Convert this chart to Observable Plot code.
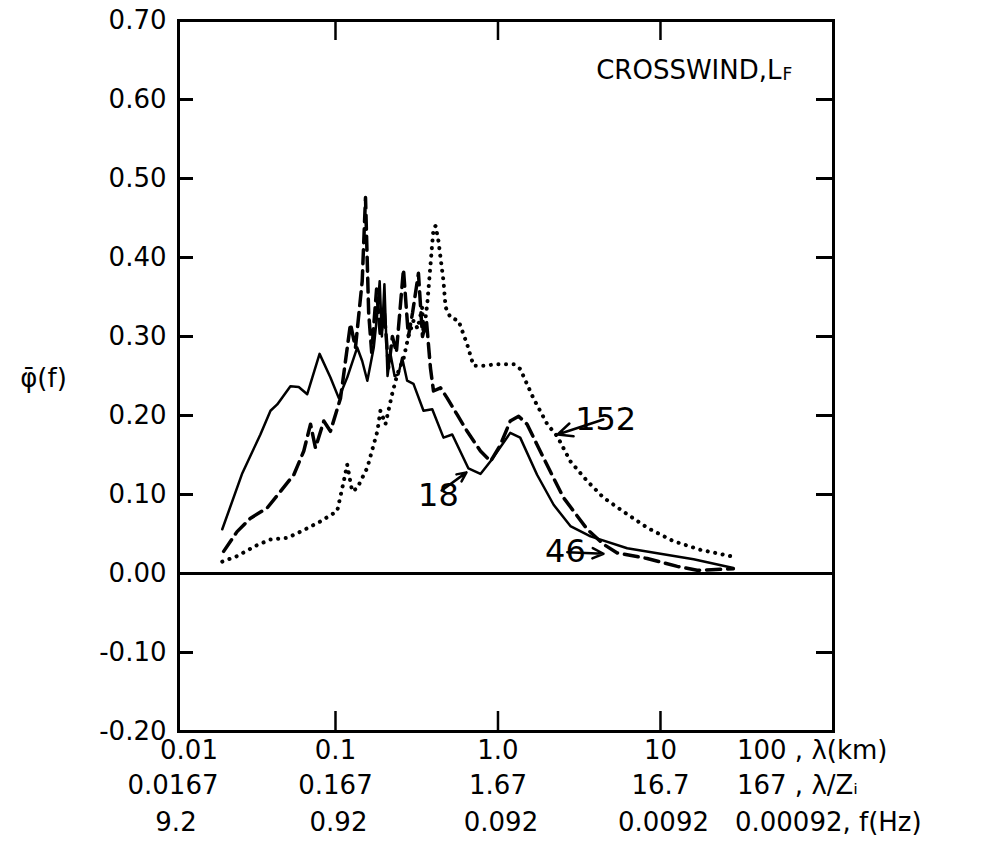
<!DOCTYPE html>
<html><head><meta charset="utf-8">
<script src="https://cdn.jsdelivr.net/npm/d3@7"></script>
<script src="https://cdn.jsdelivr.net/npm/@observablehq/plot@0.6"></script>
<style>body{margin:0;background:#fff}</style>
</head><body><div id="chart"></div>
<script>
// wavelength (km) and normalized co-spectrum for three heights (m)
const lambda18 = [0.0201,0.0267,0.0345,0.0398,0.0438,0.0528,0.0594,0.0670,0.0798,0.0931,0.1048,0.118,0.136,0.146,0.157,0.172,0.181,0.187,0.193,0.200,0.209,0.218,0.231,0.244,0.257,0.276,0.302,0.348,0.394,0.462,0.523,0.658,0.780,0.90,1.19,1.37,1.74,2.20,2.79,3.71,6.24,16.0,28.1];
const phi18    = [0.056,0.127,0.176,0.206,0.214,0.237,0.236,0.227,0.278,0.248,0.222,0.248,0.286,0.269,0.244,0.286,0.33,0.37,0.30,0.366,0.25,0.278,0.25,0.252,0.273,0.244,0.24,0.206,0.208,0.172,0.176,0.133,0.126,0.142,0.178,0.172,0.125,0.087,0.06,0.047,0.032,0.018,0.007];

const lambda46 = [0.0205,0.0248,0.030,0.038,0.0459,0.0554,0.0638,0.0702,0.0753,0.0847,0.0931,0.1074,0.1236,0.1327,0.146,0.153,0.16,0.167,0.179,0.189,0.200,0.212,0.224,0.237,0.262,0.281,0.298,0.324,0.343,0.363,0.384,0.401,0.443,0.487,0.561,0.646,0.78,0.90,1.036,1.19,1.34,1.51,1.74,2.10,2.53,3.54,4.46,5.42,8.28,12.7,16.8,28.1];
const phi46    = [0.028,0.053,0.07,0.083,0.104,0.125,0.155,0.189,0.159,0.193,0.18,0.222,0.316,0.286,0.37,0.476,0.33,0.28,0.36,0.30,0.33,0.26,0.30,0.28,0.385,0.30,0.33,0.38,0.30,0.32,0.26,0.231,0.235,0.222,0.201,0.18,0.155,0.142,0.163,0.193,0.199,0.189,0.163,0.129,0.096,0.056,0.037,0.026,0.019,0.009,0.004,0.006];

const lambda152 = [0.0201,0.0248,0.033,0.0398,0.0504,0.0638,0.0809,0.1024,0.1125,0.118,0.1267,0.136,0.157,0.181,0.189,0.203,0.223,0.240,0.263,0.281,0.302,0.32,0.342,0.348,0.367,0.384,0.401,0.413,0.43,0.462,0.476,0.51,0.572,0.646,0.707,0.815,0.99,1.25,1.37,1.65,2.01,2.31,2.79,3.54,4.46,6.24,8.28,12.0,17.6,27.0];
const phi152    = [0.015,0.022,0.036,0.043,0.045,0.055,0.066,0.079,0.117,0.138,0.104,0.108,0.134,0.18,0.206,0.189,0.227,0.252,0.273,0.30,0.32,0.31,0.337,0.303,0.341,0.39,0.437,0.44,0.421,0.37,0.337,0.324,0.32,0.29,0.263,0.263,0.265,0.265,0.259,0.222,0.189,0.174,0.142,0.117,0.096,0.075,0.058,0.041,0.030,0.022];

// axis ticks and labels
const yTicks = [-0.2,-0.1,0,0.1,0.2,0.3,0.4,0.5,0.6,0.7];
const xTicks = [0.1, 1, 10];
const xLabelAt = [0.01, 0.1, 1, 10];
const row1 = ["0.01", "0.1", "1.0", "10"];
const row2 = ["0.0167", "0.167", "1.67", "16.7"];
const row3 = ["9.2", "0.92", "0.092", "0.0092"];
const rowEnd = ["100 , λ(km)", "167 , λ/Zᵢ", "0.00092, f(Hz)"];

// curve labels and their arrows
const curveNames = ["18", "46", "152"];
const nameX = [0.43, 2.60, 4.6];
const nameY = [0.099, 0.027, 0.194];
const nameAnchor = ["end", "end", "start"];
const arrowX1 = [0.45, 2.67, 4.45];
const arrowY1 = [0.105, 0.027, 0.195];
const arrowX2 = [0.64, 4.46, 2.33];
const arrowY2 = [0.128, 0.025, 0.176];

const mk = (xs, ys) => xs.map((x, i) => ({x, y: ys[i]}));
const s18 = mk(lambda18, phi18), s46 = mk(lambda46, phi46), s152 = mk(lambda152, phi152);
const names = curveNames.map((t, i) => ({t, x: nameX[i], y: nameY[i], a: nameAnchor[i]}));
const arrows = arrowX1.map((x1, i) => ({x1, y1: arrowY1[i], x2: arrowX2[i], y2: arrowY2[i]}));

const W = 999, H = 854, mL = 178, mR = 166, mT = 20, mB = 123;
const pW = W - mL - mR, pH = H - mT - mB;
const font = "'DejaVu Sans', Verdana, sans-serif";
const fmt = d => (d < 0 ? "-" : "") + Math.abs(d).toFixed(2);
const FS = 26;

const chart = Plot.plot({
  width: W, height: H,
  marginLeft: mL, marginRight: mR, marginTop: mT, marginBottom: mB,
  style: {fontFamily: font, fontSize: FS + "px", background: "#fff", color: "#000"},
  x: {type: "log", domain: [0.01081, 116.1], axis: null},
  y: {domain: [-0.2, 0.7], axis: null},
  marks: [
    Plot.frame({stroke: "#000", strokeWidth: 3}),
    Plot.ruleY([0], {stroke: "#000", strokeWidth: 3}),
    // inward ticks
    Plot.tickY(yTicks, {y: d => d, insetRight: pW - 15, strokeWidth: 3}),
    Plot.tickY(yTicks, {y: d => d, insetLeft: pW - 17, strokeWidth: 3}),
    Plot.tickX(xTicks, {x: d => d, insetTop: pH - 20, strokeWidth: 2.5}),
    Plot.tickX(xTicks, {x: d => d, insetBottom: pH - 20, strokeWidth: 2.5}),
    // y tick labels
    Plot.text(yTicks, {y: d => d, text: d => fmt(d), frameAnchor: "left", textAnchor: "end", dx: -12, fontSize: FS}),
    // x tick label rows
    Plot.text(xLabelAt.slice(0, 1), {x: d => d, text: () => row1[0], frameAnchor: "bottom", dy: 27, dx: 16, fontSize: FS}),
    Plot.text(xLabelAt.slice(1), {x: d => d, text: (d, i) => row1[i + 1], frameAnchor: "bottom", dy: 27, fontSize: FS}),
    Plot.text(xLabelAt, {x: d => d, text: (d, i) => row2[i], frameAnchor: "bottom", dy: 62, fontSize: FS}),
    Plot.text(xLabelAt, {x: d => d, text: (d, i) => row3[i], frameAnchor: "bottom", dy: 99, dx: 3, fontSize: FS}),
    Plot.text([100], {x: d => d, text: () => rowEnd[0], frameAnchor: "bottom", dy: 27, dx: -86, textAnchor: "start", fontSize: FS}),
    Plot.text([100], {x: d => d, text: () => rowEnd[1], frameAnchor: "bottom", dy: 62, dx: -86, textAnchor: "start", fontSize: FS}),
    Plot.text([100], {x: d => d, text: () => rowEnd[2], frameAnchor: "bottom", dy: 99, dx: -88, textAnchor: "start", fontSize: FS}),
    // y title: phi-bar (f)
    Plot.text(["φ\u0304(f)"], {frameAnchor: "left", y: () => 0.247, dx: -135, textAnchor: "middle", fontSize: FS}),
    // panel title
    Plot.text(["CROSSWIND,L"], {frameAnchor: "top-right", textAnchor: "end", dx: -52, dy: 40, fontSize: FS}),
    Plot.text(["F"], {frameAnchor: "top-right", textAnchor: "start", dx: -51, dy: 47, fontSize: 17}),
    // curves
    Plot.line(s152, {x: "x", y: "y", stroke: "#000", strokeWidth: 4, strokeDasharray: "0.1,7.5", strokeLinecap: "round"}),
    Plot.line(s46, {x: "x", y: "y", stroke: "#000", strokeWidth: 3.5, strokeDasharray: "14,7"}),
    Plot.line(s18, {x: "x", y: "y", stroke: "#000", strokeWidth: 2.5}),
    // curve labels
    Plot.arrow(arrows, {x1: "x1", y1: "y1", x2: "x2", y2: "y2", stroke: "#000", strokeWidth: 2.5, headLength: 12, headAngle: 50}),
    Plot.text(names, {x: "x", y: "y", text: "t", textAnchor: "a", fontSize: 32})
  ]
});
document.getElementById("chart").append(chart);
</script>
</body></html>
